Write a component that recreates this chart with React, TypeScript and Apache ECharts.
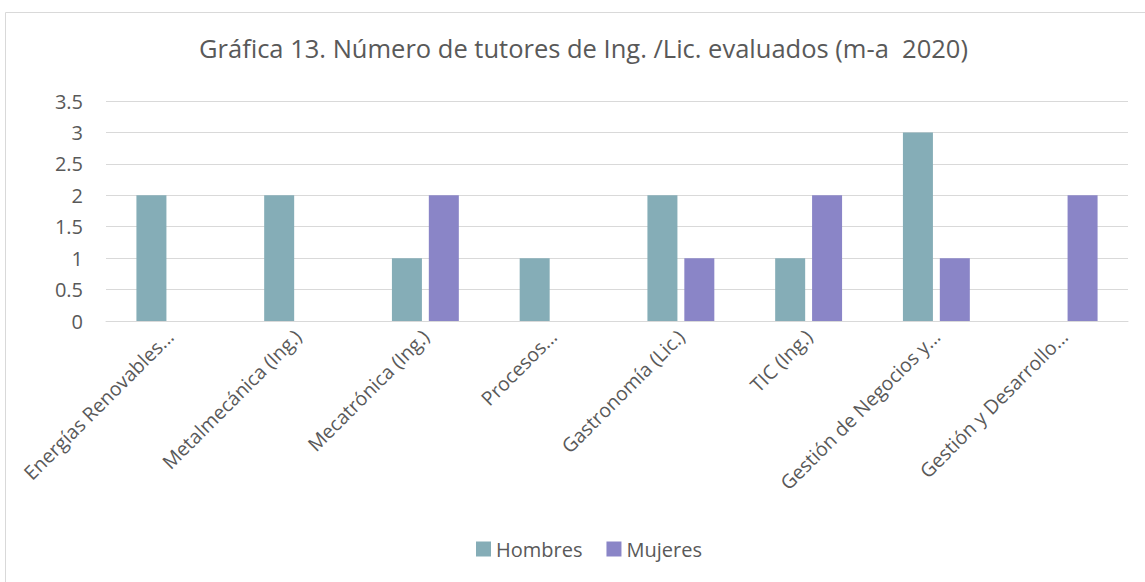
import React, { useEffect, useRef } from "react";
import * as echarts from "echarts";

const titleText = "Gráfica 13. Número de tutores de Ing. /Lic. evaluados (m-a  2020)";
const categories = [
  "Energías Renovables...",
  "Metalmecánica (Ing.)",
  "Mecatrónica (Ing.)",
  "Procesos...",
  "Gastronomía (Lic.)",
  "TIC (Ing.)",
  "Gestión de Negocios y...",
  "Gestión y Desarrollo...",
];
const hombres = [2, 2, 1, 1, 2, 1, 3, 0];
const mujeres = [0, 0, 2, 0, 1, 2, 1, 2];
const seriesNames = ["Hombres", "Mujeres"];

const FONT = "'Open Sans', Lato, sans-serif";
const TEXT = "#595959";

export default function App() {
  const ref = useRef<HTMLDivElement>(null);
  useEffect(() => {
    if (!ref.current) return;
    const chart = echarts.init(ref.current, null, { renderer: "svg" });
    chart.setOption({
      animation: false,
      backgroundColor: "#ffffff",
      textStyle: { fontFamily: FONT, color: TEXT },
      graphic: [
        {
          type: "rect",
          shape: { x: 5.5, y: 12.5, width: 1300, height: 700 },
          style: { fill: "none", stroke: "#d9d9d9", lineWidth: 1 },
          silent: true,
        },
      ],
      title: {
        text: titleText,
        left: 194,
        top: 30,
        textStyle: { fontFamily: FONT, fontSize: 25.5, fontWeight: "normal", color: TEXT },
      },
      legend: {
        data: seriesNames,
        top: 534,
        left: 471,
        itemWidth: 15,
        itemHeight: 15,
        itemGap: 24,
        icon: "rect",
        textStyle: { fontFamily: FONT, fontSize: 20, color: TEXT },
      },
      grid: { left: 106, right: 17, top: 101, bottom: 261, containLabel: false },
      xAxis: {
        type: "category",
        data: categories,
        axisLine: { show: true, lineStyle: { color: "#d9d9d9", width: 1 } },
        axisTick: { show: false },
        axisLabel: {
          rotate: 45,
          interval: 0,
          margin: 12,
          fontFamily: FONT,
          fontSize: 19.5,
          color: TEXT,
        },
      },
      yAxis: {
        type: "value",
        min: 0,
        max: 3.5,
        interval: 0.5,
        axisLine: { show: false },
        axisTick: { show: false },
        splitLine: { lineStyle: { color: "#d9d9d9", width: 1 } },
        axisLabel: { margin: 23, fontFamily: FONT, fontSize: 20, color: TEXT },
      },
      series: [
        {
          name: seriesNames[0],
          type: "bar",
          data: hombres,
          barWidth: 30,
          barGap: "23%",
          itemStyle: { color: "#85ADB7" },
        },
        {
          name: seriesNames[1],
          type: "bar",
          data: mujeres,
          barWidth: 30,
          itemStyle: { color: "#8A85C7" },
        },
      ],
    });
    return () => chart.dispose();
  }, []);
  return (
    <div
      ref={ref}
      style={{ position: "fixed", left: 0, top: 0, width: 1145, height: 582 }}
    />
  );
}
